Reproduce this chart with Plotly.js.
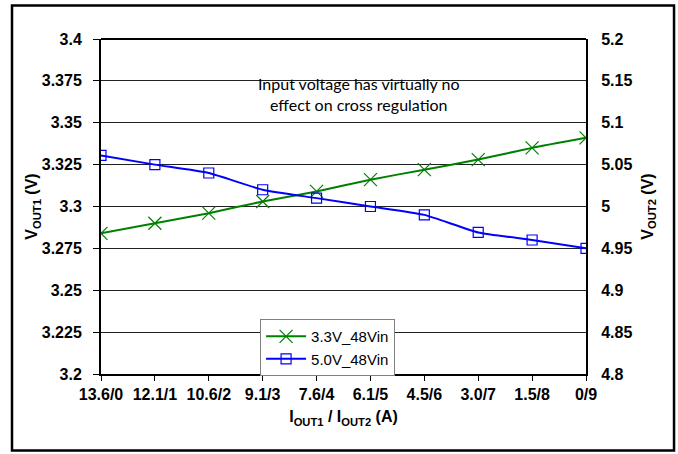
<!DOCTYPE html>
<html>
<head>
<meta charset="utf-8">
<script src="https://cdn.plot.ly/plotly-3.0.1.min.js"></script>
<style>
html,body{margin:0;padding:0;background:#fff;}
#chart{width:678px;height:454px;}
</style>
</head>
<body>
<div id="chart"></div>
<script>
var categories = ["13.6/0","12.1/1","10.6/2","9.1/3","7.6/4","6.1/5","4.5/6","3.0/7","1.5/8","0/9"];
var vout1_48Vin = [3.284, 3.290, 3.296, 3.303, 3.309, 3.316, 3.322, 3.328, 3.335, 3.341];
var vout2_48Vin = [5.061, 5.050, 5.040, 5.020, 5.010, 5.000, 4.990, 4.969, 4.960, 4.950];
var seriesNames = ["3.3V_48Vin", "5.0V_48Vin"];
var noteText = "Input voltage has virtually no<br>effect on cross regulation";

var tickFont = {family: "Arial", size: 16, color: "#000", weight: "bold"};
var titleFont = {family: "Arial", size: 16, color: "#000", weight: "bold"};
var legFont = {family: "Arial", size: 15, color: "#000"};

var traces = [
  {
    x: categories, y: vout1_48Vin, name: seriesNames[0], type: "scatter", mode: "lines+markers",
    line: {color: "#008000", width: 2, shape: "spline", smoothing: 0.5},
    marker: {symbol: "x-thin-open", size: 13, color: "#008000", line: {color: "#008000", width: 1.2}},
    yaxis: "y"
  },
  {
    x: categories, y: vout2_48Vin, name: seriesNames[1], type: "scatter", mode: "lines+markers",
    line: {color: "#0000ff", width: 2, shape: "spline", smoothing: 0.5},
    marker: {symbol: "square-open", size: 10, color: "#0000ff", line: {color: "#0000ff", width: 1.2}},
    yaxis: "y2"
  }
];

var layout = {
  width: 678, height: 454,
  margin: {l: 101, r: 92, t: 39, b: 80},
  paper_bgcolor: "#fff", plot_bgcolor: "#fff",
  showlegend: true,
  legend: {
    x: 0.328, y: 0.164, xanchor: "left", yanchor: "top",
    bgcolor: "#fff", bordercolor: "#808080", borderwidth: 1,
    font: legFont,
    tracegroupgap: 0, itemwidth: 40
  },
  xaxis: {
    type: "category", range: [0, 9],
    showline: true, linecolor: "#000", linewidth: 2,
    ticks: "outside", ticklen: 5, tickcolor: "#000", tickwidth: 1,
    showgrid: false, zeroline: false,
    tickfont: tickFont,
    title: {text: "<b>I<sub>OUT1</sub> / I<sub>OUT2</sub> (A)</b>", font: titleFont, standoff: 9}
  },
  yaxis: {
    range: [3.2, 3.4], dtick: 0.025, tick0: 3.2,
    showline: true, linecolor: "#000", linewidth: 2,
    ticks: "outside", ticklen: 6, tickcolor: "#000", tickwidth: 1,
    showgrid: true, gridcolor: "#222", gridwidth: 1, zeroline: false,
    tickfont: tickFont, ticklabelstandoff: 8,
    title: {text: "<b>V<sub>OUT1</sub> (V)</b>", font: titleFont, standoff: 0}
  },
  yaxis2: {
    range: [4.8, 5.2], dtick: 0.05, tick0: 4.8,
    overlaying: "y", side: "right",
    showline: true, linecolor: "#000", linewidth: 2,
    ticks: "", showgrid: false, zeroline: false,
    tickfont: tickFont, ticklabelstandoff: 10,
    title: {text: "<b>V<sub>OUT2</sub> (V)</b>", font: titleFont, standoff: 10}
  },
  annotations: [{
    xref: "paper", yref: "paper", x: 0.53, y: 0.835, xanchor: "center", yanchor: "middle",
    text: noteText, showarrow: false, align: "center",
    font: {family: "Lato", size: 16, color: "#000"}
  }],
  shapes: [
    {type: "line", xref: "paper", yref: "paper", x0: 0, x1: 1, y0: 1, y1: 1, line: {color: "#000", width: 2}},
    {type: "rect", xref: "paper", yref: "paper", x0: -0.1835, x1: 1.1815, y0: -0.228, y1: 1.1, line: {color: "#000", width: 2.5}, layer: "below"}
  ]
};

Plotly.newPlot("chart", traces, layout, {displayModeBar: false, staticPlot: true});
</script>
</body>
</html>
